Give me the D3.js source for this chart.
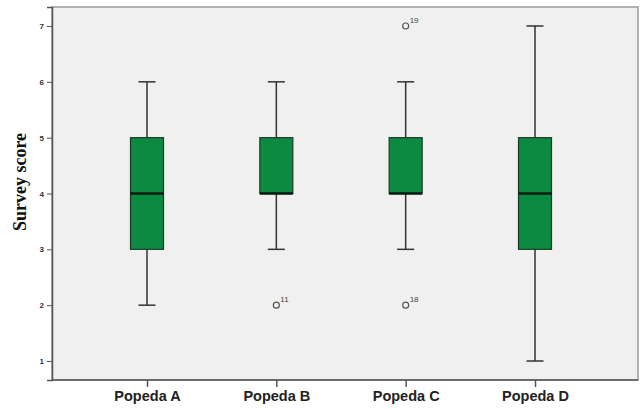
<!DOCTYPE html>
<html>
<head>
<meta charset="utf-8">
<script src="https://cdn.jsdelivr.net/npm/d3@7"></script>
<style>
  body { margin: 0; background: #fff; }
</style>
</head>
<body>
<svg id="chart"></svg>
<script>
// data
const groups = ["Popeda A", "Popeda B", "Popeda C", "Popeda D"];
const whiskerLow = [2, 3, 3, 1];
const q1 = [3, 4, 4, 3];
const median = [4, 4, 4, 4];
const q3 = [5, 5, 5, 5];
const whiskerHigh = [6, 6, 6, 7];
const outliers = [
  { group: "Popeda B", value: 2, id: "11" },
  { group: "Popeda C", value: 2, id: "18" },
  { group: "Popeda C", value: 7, id: "19" }
];
const yTicks = [1, 2, 3, 4, 5, 6, 7];

const width = 640, height = 409;
const plot = { left: 52, right: 638, top: 7, bottom: 380 };

const svg = d3.select("#chart").attr("width", width).attr("height", height);

const x = d3.scalePoint().domain(groups).range([147, 535]);
const y = d3.scaleLinear().domain([0.66, 7.34]).range([plot.bottom, plot.top]);

// plot background
svg.append("rect")
  .attr("x", plot.left)
  .attr("y", plot.top)
  .attr("width", plot.right - plot.left)
  .attr("height", plot.bottom - plot.top)
  .attr("fill", "#f0f0f0")
  .attr("stroke", "#9a9a9a")
  .attr("stroke-width", 1.5);

const boxes = groups.map((g, i) => ({
  g, lo: whiskerLow[i], q1: q1[i], med: median[i], q3: q3[i], hi: whiskerHigh[i]
}));

const boxW = 33, capW = 17;
const bg = svg.append("g");

// whiskers
bg.selectAll(".whisker")
  .data(boxes)
  .join("line")
  .attr("class", "whisker")
  .attr("x1", d => x(d.g)).attr("x2", d => x(d.g))
  .attr("y1", d => y(d.lo)).attr("y2", d => y(d.hi))
  .attr("stroke", "#333").attr("stroke-width", 1.5);

bg.selectAll(".capLo")
  .data(boxes)
  .join("line")
  .attr("class", "capLo")
  .attr("x1", d => x(d.g) - capW / 2).attr("x2", d => x(d.g) + capW / 2)
  .attr("y1", d => y(d.lo)).attr("y2", d => y(d.lo))
  .attr("stroke", "#333").attr("stroke-width", 1.5);

bg.selectAll(".capHi")
  .data(boxes)
  .join("line")
  .attr("class", "capHi")
  .attr("x1", d => x(d.g) - capW / 2).attr("x2", d => x(d.g) + capW / 2)
  .attr("y1", d => y(d.hi)).attr("y2", d => y(d.hi))
  .attr("stroke", "#333").attr("stroke-width", 1.5);

// boxes
bg.selectAll(".box")
  .data(boxes)
  .join("rect")
  .attr("class", "box")
  .attr("x", d => x(d.g) - boxW / 2)
  .attr("width", boxW)
  .attr("y", d => y(d.q3))
  .attr("height", d => y(d.q1) - y(d.q3))
  .attr("fill", "#0c8a42")
  .attr("stroke", "#1d3a25")
  .attr("stroke-width", 1.2);

// medians
bg.selectAll(".median")
  .data(boxes)
  .join("line")
  .attr("class", "median")
  .attr("x1", d => x(d.g) - boxW / 2).attr("x2", d => x(d.g) + boxW / 2)
  .attr("y1", d => y(d.med)).attr("y2", d => y(d.med))
  .attr("stroke", "#0a1a0f").attr("stroke-width", 2.5);

// outliers
bg.selectAll(".outlier")
  .data(outliers)
  .join("circle")
  .attr("class", "outlier")
  .attr("cx", d => x(d.group))
  .attr("cy", d => y(d.value))
  .attr("r", 3)
  .attr("fill", "none")
  .attr("stroke", "#555")
  .attr("stroke-width", 1.2);

bg.selectAll(".outlierLabel")
  .data(outliers)
  .join("text")
  .attr("class", "outlierLabel")
  .attr("x", d => x(d.group) + 4)
  .attr("y", d => y(d.value) - 3)
  .attr("font-family", "Arial, Liberation Sans, sans-serif")
  .attr("font-size", 8)
  .attr("fill", "#444")
  .text(d => d.id);

// axes
const yAxis = svg.append("g")
  .attr("transform", `translate(${plot.left},0)`)
  .call(d3.axisLeft(y).tickValues(yTicks).tickFormat(d3.format("d")).tickSize(5).tickPadding(3));
yAxis.select(".domain").attr("stroke", "#555").attr("stroke-width", 1.5);
yAxis.selectAll(".tick line").attr("stroke", "#555");
yAxis.selectAll("text")
  .attr("font-family", "Arial, Liberation Sans, sans-serif")
  .attr("font-size", 8).attr("font-weight", "bold").attr("fill", "#333");

const xAxis = svg.append("g")
  .attr("transform", `translate(0,${plot.bottom})`)
  .call(d3.axisBottom(x).tickSize(7).tickPadding(4).tickSizeOuter(0));
xAxis.select(".domain")
  .attr("d", `M${plot.left},0H${plot.right}`)
  .attr("stroke", "#555").attr("stroke-width", 1.5);
xAxis.selectAll(".tick line").attr("stroke", "#555").attr("stroke-width", 1.5);
xAxis.selectAll("text")
  .attr("font-family", "Arial, Liberation Sans, sans-serif")
  .attr("font-size", 14.5).attr("font-weight", "bold").attr("fill", "#222");

// y title
svg.append("text")
  .attr("transform", `translate(26,182) rotate(-90)`)
  .attr("text-anchor", "middle")
  .attr("font-family", "Liberation Serif, Times New Roman, serif")
  .attr("font-size", 18)
  .attr("font-weight", "bold")
  .attr("fill", "#111")
  .text("Survey score");
</script>
</body>
</html>
